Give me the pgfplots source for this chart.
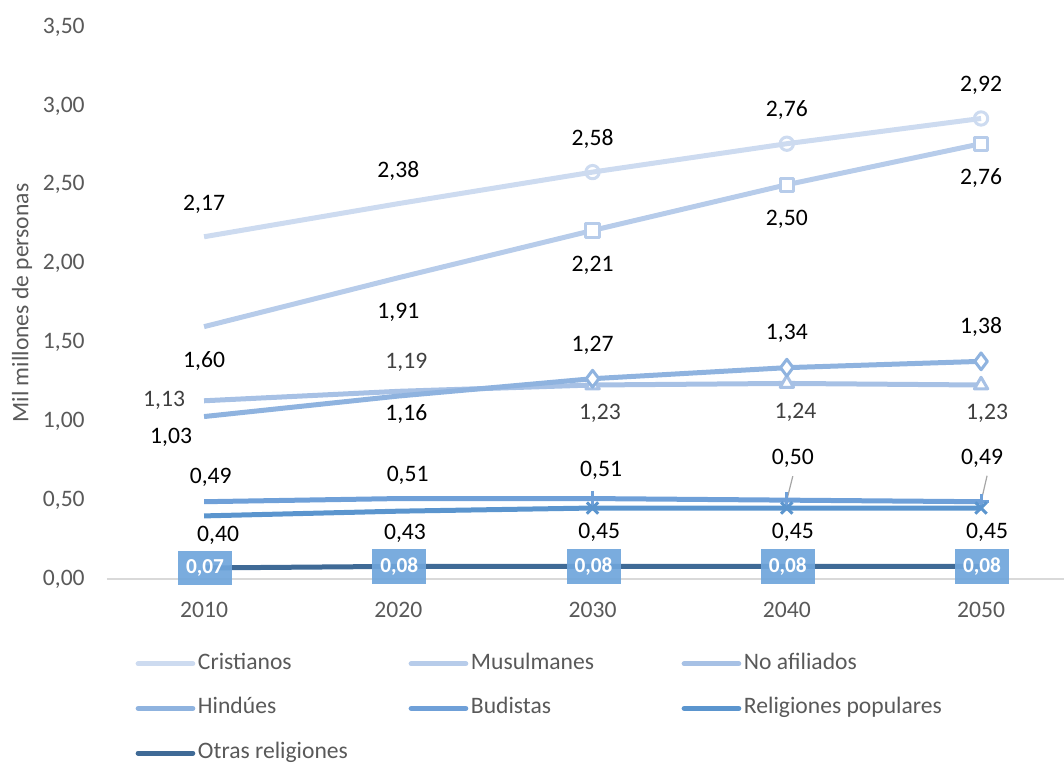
\documentclass[border=0pt]{standalone}
\usepackage{fontspec}
\setmainfont{Carlito}
\usepackage{pgfplots}
\pgfplotsset{compat=1.18}
\definecolor{cCri}{HTML}{CDDBF0}
\definecolor{cMus}{HTML}{B7CCEA}
\definecolor{cNoa}{HTML}{A7C1E5}
\definecolor{cHin}{HTML}{8FB3DF}
\definecolor{cBud}{HTML}{6FA0D8}
\definecolor{cRel}{HTML}{5B95CE}
\definecolor{cOtr}{HTML}{3F6A96}
\definecolor{boxblue}{HTML}{6FA5DB}
\definecolor{tickgray}{HTML}{595959}
\definecolor{labgray}{HTML}{404040}
\definecolor{axisgray}{HTML}{D9D9D9}
\newcommand{\lf}{\fontsize{17.7}{21}\selectfont}
\begin{document}
\lf
\begin{tikzpicture}
\useasboundingbox (-80.2pt,-138pt) rectangle (717.8pt,434.25pt);
\begin{axis}[
  at={(0pt,0pt)}, anchor=south west,
  scale only axis, width=717.8pt, height=414pt,
  xmin=-0.5, xmax=4.427, ymin=0, ymax=3.5,
  xtick={0,1,2,3,4}, xticklabels={2010,2020,2030,2040,2050},
  ytick={0,0.5,1,1.5,2,2.5,3,3.5},
  clip=false,
  axis x line*=bottom, axis y line*=left,
  y axis line style={draw=none},
  x axis line style={draw=axisgray, line width=1.5pt},
  major tick length=0pt,
  tick label style={font=\lf, text=tickgray},
  yticklabel style={anchor=east, inner sep=0pt, xshift=-16.5pt,
    /pgf/number format/.cd, fixed, fixed zerofill, precision=2, use comma, assume math mode=true},
  xticklabel style={anchor=center, inner sep=0pt, yshift=-23.3pt},
  ylabel={Mil millones de personas},
  ylabel style={at={(axis description cs:-0.0887,0.5)}, anchor=center, font=\lf, text=tickgray},
  legend columns=3,
  legend cell align=left,
  legend style={at={(axis description cs:0.0300,-0.1330)}, anchor=north west,
    draw=none, fill=none, inner sep=0pt, outer sep=0pt, font=\lf, text=tickgray,
    /tikz/every odd column/.append style={column sep=2pt},
    row sep=16.5pt,
    nodes={inner sep=0pt, text height=12.5pt, text depth=4.5pt}},
  legend image code/.code={\draw[#1, mark=none, line cap=round] (0pt,0pt) -- (41pt,0pt);},
  every axis plot/.append style={line width=3.75pt, line join=round},
]
\addplot[cCri, mark=o, mark size=5pt, mark indices={3,4,5}, mark options={solid, fill=white, line width=2.25pt}]
  coordinates {(0,2.17) (1,2.38) (2,2.58) (3,2.76) (4,2.92)};
\addlegendentry{\makebox[158pt][l]{Cristianos}}
\addplot[cMus, mark=square*, mark size=5pt, mark indices={3,4,5}, mark options={solid, fill=white, line width=2.25pt}]
  coordinates {(0,1.60) (1,1.91) (2,2.21) (3,2.50) (4,2.76)};
\addlegendentry{\makebox[158pt][l]{Musulmanes}}
\addplot[cNoa, mark=triangle*, mark size=5.8pt, mark indices={3,4,5}, mark options={solid, fill=white, line width=2.25pt}]
  coordinates {(0,1.13) (1,1.19) (2,1.23) (3,1.24) (4,1.23)};
\addlegendentry{\makebox[158pt][l]{No afiliados}}
\addplot[cHin, mark=diamond*, mark size=6.3pt, mark indices={3,4,5}, mark options={solid, fill=white, line width=2.25pt}]
  coordinates {(0,1.03) (1,1.16) (2,1.27) (3,1.34) (4,1.38)};
\addlegendentry{\makebox[158pt][l]{Hindúes}}
\addplot[cBud, mark=+, mark size=6pt, mark indices={3,4,5}, mark options={solid, line width=2.25pt}]
  coordinates {(0,0.49) (1,0.51) (2,0.51) (3,0.50) (4,0.49)};
\addlegendentry{\makebox[158pt][l]{Budistas}}
\addplot[cRel, mark=x, mark size=6pt, mark indices={3,4,5}, mark options={solid, line width=2.25pt}]
  coordinates {(0,0.40) (1,0.43) (2,0.45) (3,0.45) (4,0.45)};
\addlegendentry{\makebox[158pt][l]{Religiones populares}}
\addplot[cOtr, no marks]
  coordinates {(0,0.07) (1,0.08) (2,0.08) (3,0.08) (4,0.08)};
\addlegendentry{\makebox[158pt][l]{Otras religiones}}

% Cristianos labels (above)
\node[font=\lf, yshift=24.5pt] at (axis cs:0,2.17) {2,17};
\node[font=\lf, yshift=24.5pt] at (axis cs:1,2.38) {2,38};
\node[font=\lf, yshift=25pt] at (axis cs:2,2.58) {2,58};
\node[font=\lf, yshift=25pt] at (axis cs:3,2.76) {2,76};
\node[font=\lf, yshift=25pt] at (axis cs:4,2.92) {2,92};
% Musulmanes labels (below)
\node[font=\lf, yshift=-26pt] at (axis cs:0,1.60) {1,60};
\node[font=\lf, yshift=-26pt] at (axis cs:1,1.91) {1,91};
\node[font=\lf, yshift=-26pt] at (axis cs:2,2.21) {2,21};
\node[font=\lf, yshift=-26pt] at (axis cs:3,2.50) {2,50};
\node[font=\lf, yshift=-26pt] at (axis cs:4,2.76) {2,76};
% No afiliados labels
\node[font=\lf, text=labgray, xshift=-30pt] at (axis cs:0,1.13) {1,13};
\node[font=\lf, text=labgray, xshift=6pt, yshift=22pt] at (axis cs:1,1.19) {1,19};
\node[font=\lf, text=labgray, xshift=5.5pt, yshift=-21pt] at (axis cs:2,1.23) {1,23};
\node[font=\lf, text=labgray, xshift=6.5pt, yshift=-22pt] at (axis cs:3,1.24) {1,24};
\node[font=\lf, text=labgray, xshift=4.5pt, yshift=-21pt] at (axis cs:4,1.23) {1,23};
% Hindues labels
\node[font=\lf, xshift=-24.75pt, yshift=-15.75pt] at (axis cs:0,1.03) {1,03};
\node[font=\lf, xshift=6pt, yshift=-13.5pt] at (axis cs:1,1.16) {1,16};
\node[font=\lf, yshift=24.75pt] at (axis cs:2,1.27) {1,27};
\node[font=\lf, yshift=26pt] at (axis cs:3,1.34) {1,34};
\node[font=\lf, yshift=26pt] at (axis cs:4,1.38) {1,38};
% Budistas labels
\node[font=\lf, xshift=5pt, yshift=18.5pt] at (axis cs:0,0.49) {0,49};
\node[font=\lf, xshift=7pt, yshift=17.7pt] at (axis cs:1,0.51) {0,51};
\node[font=\lf, xshift=6.4pt, yshift=21.5pt] at (axis cs:2,0.51) {0,51};
\node[font=\lf, xshift=4.5pt, yshift=31.4pt] at (axis cs:3,0.50) {0,50};
\node[font=\lf, xshift=0.75pt, yshift=32.8pt] at (axis cs:4,0.49) {0,49};
\draw[gray!70, line width=0.9pt] ([xshift=4.5pt, yshift=18pt]axis cs:3,0.50) -- (axis cs:3,0.50);
\draw[gray!70, line width=0.9pt] ([xshift=4.5pt, yshift=19.5pt]axis cs:4,0.49) -- (axis cs:4,0.49);
% Religiones populares labels
\node[font=\lf, xshift=10.5pt, yshift=-14.3pt] at (axis cs:0,0.40) {0,40};
\node[font=\lf, xshift=5pt, yshift=-17pt] at (axis cs:1,0.43) {0,43};
\node[font=\lf, xshift=5pt, yshift=-18pt] at (axis cs:2,0.45) {0,45};
\node[font=\lf, xshift=4.5pt, yshift=-18pt] at (axis cs:3,0.45) {0,45};
\node[font=\lf, xshift=4.5pt, yshift=-18pt] at (axis cs:4,0.45) {0,45};
% Otras religiones labels (boxes)
\foreach \xx/\yy/\tt in {0/0.07/{0,07},1/0.08/{0,08},2/0.08/{0,08},3/0.08/{0,08},4/0.08/{0,08}} {
  \edef\temp{\noexpand\node[fill=boxblue, fill opacity=0.92, text opacity=1, text=white,
    font=\noexpand\bfseries\noexpand\fontsize{16}{19}\noexpand\selectfont,
    minimum width=40.5pt, minimum height=26pt, inner sep=0pt, xshift=0.75pt]
    at (axis cs:\xx,\yy) {\tt};}
  \temp
}
\end{axis}
\end{tikzpicture}
\end{document}
